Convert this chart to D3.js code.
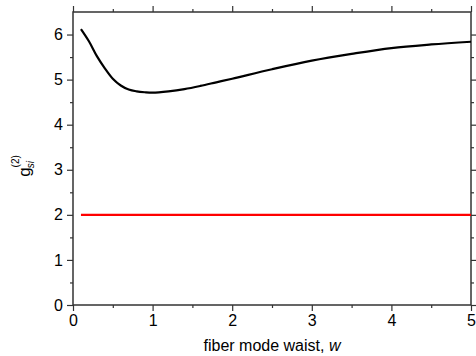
<!DOCTYPE html>
<html>
<head>
<meta charset="utf-8">
<script src="https://cdn.jsdelivr.net/npm/d3@7"></script>
<style>
  body { margin: 0; background: #fff; }
  text { font-family: "Liberation Sans", Arial, sans-serif; }
</style>
</head>
<body>
<script>
var w = 476,
    h = 356,
    margin = {top: 12, right: 5, bottom: 51, left: 73};

// black curve: g(2)_si vs fiber mode waist
var waist = [0.1, 0.2, 0.3, 0.4, 0.5, 0.6, 0.7, 0.8, 0.9, 1.0, 1.2, 1.4, 1.6, 1.8, 2.0, 2.5, 3.0, 3.5, 4.0, 4.5, 5.0];
var g2si  = [6.12, 5.85, 5.52, 5.25, 5.02, 4.87, 4.78, 4.74, 4.72, 4.71, 4.74, 4.79, 4.86, 4.94, 5.02, 5.23, 5.42, 5.57, 5.70, 5.78, 5.84];
// red reference line
var refX = [0.1, 5.0];
var refY = [2, 2];

var xTicks = [0, 1, 2, 3, 4, 5],
    xMinor = [0.5, 1.5, 2.5, 3.5, 4.5],
    yTicks = [0, 1, 2, 3, 4, 5, 6],
    yMinor = [0.5, 1.5, 2.5, 3.5, 4.5, 5.5];

var svg = d3.select('body')
            .append('svg')
            .attr('width', w)
            .attr('height', h);

var x = d3.scaleLinear().domain([0, 5]).range([margin.left, w - margin.right]),
    y = d3.scaleLinear().domain([0, 6.5]).range([h - margin.bottom, margin.top]);

var axisColor = '#333';

function styleAxis(g) {
  g.select('.domain').remove();
  g.selectAll('line').attr('stroke', axisColor).attr('stroke-width', 1.2);
  g.selectAll('text').attr('font-size', 16).attr('fill', '#000');
}

// major + minor ticks, all sides pointing outward
svg.append('g').attr('transform', 'translate(0,' + y(0) + ')')
  .call(d3.axisBottom(x).tickValues(xTicks).tickSize(6).tickPadding(4).tickFormat(d3.format('d')))
  .call(styleAxis);
svg.append('g').attr('transform', 'translate(0,' + y(0) + ')')
  .call(d3.axisBottom(x).tickValues(xMinor).tickSize(3).tickFormat(''))
  .call(styleAxis);
svg.append('g').attr('transform', 'translate(0,' + y(6.5) + ')')
  .call(d3.axisTop(x).tickValues(xTicks).tickSize(6).tickFormat(''))
  .call(styleAxis);
svg.append('g').attr('transform', 'translate(0,' + y(6.5) + ')')
  .call(d3.axisTop(x).tickValues(xMinor).tickSize(3).tickFormat(''))
  .call(styleAxis);

svg.append('g').attr('transform', 'translate(' + x(0) + ',0)')
  .call(d3.axisLeft(y).tickValues(yTicks).tickSize(6).tickPadding(4).tickFormat(d3.format('d')))
  .call(styleAxis);
svg.append('g').attr('transform', 'translate(' + x(0) + ',0)')
  .call(d3.axisLeft(y).tickValues(yMinor).tickSize(3).tickFormat(''))
  .call(styleAxis);
svg.append('g').attr('transform', 'translate(' + x(5) + ',0)')
  .call(d3.axisRight(y).tickValues(yTicks).tickSize(6).tickFormat(''))
  .call(styleAxis);
svg.append('g').attr('transform', 'translate(' + x(5) + ',0)')
  .call(d3.axisRight(y).tickValues(yMinor).tickSize(3).tickFormat(''))
  .call(styleAxis);

// frame
svg.append('rect')
  .attr('x', x(0)).attr('y', y(6.5))
  .attr('width', x(5) - x(0)).attr('height', y(0) - y(6.5))
  .attr('fill', 'none').attr('stroke', axisColor).attr('stroke-width', 1.5);

var line = d3.line()
  .x(function(d) { return x(d[0]); })
  .y(function(d) { return y(d[1]); })
  .curve(d3.curveCatmullRom.alpha(0.5));

svg.append('path')
  .datum(d3.zip(refX, refY))
  .attr('d', line)
  .attr('fill', 'none').attr('stroke', '#ff0000').attr('stroke-width', 2.2);

svg.append('path')
  .datum(d3.zip(waist, g2si))
  .attr('d', line)
  .attr('fill', 'none').attr('stroke', '#000').attr('stroke-width', 2.2);

// x label
var xl = svg.append('text')
  .attr('x', (x(0) + x(5)) / 2).attr('y', 351)
  .attr('text-anchor', 'middle').attr('font-size', 16);
xl.append('tspan').text('fiber mode waist, ');
xl.append('tspan').attr('font-style', 'italic').text('w');

// y label: g^(2)_si
var yl = svg.append('text')
  .attr('transform', 'translate(30,166) rotate(-90)')
  .attr('text-anchor', 'middle').attr('font-size', 17);
yl.append('tspan').text('g');
yl.append('tspan').attr('font-size', 10).attr('dy', -11).text('(2)');
yl.append('tspan').attr('font-size', 10).attr('font-style', 'italic').attr('dx', -13).attr('dy', 15).text('si');
</script>
</body>
</html>
